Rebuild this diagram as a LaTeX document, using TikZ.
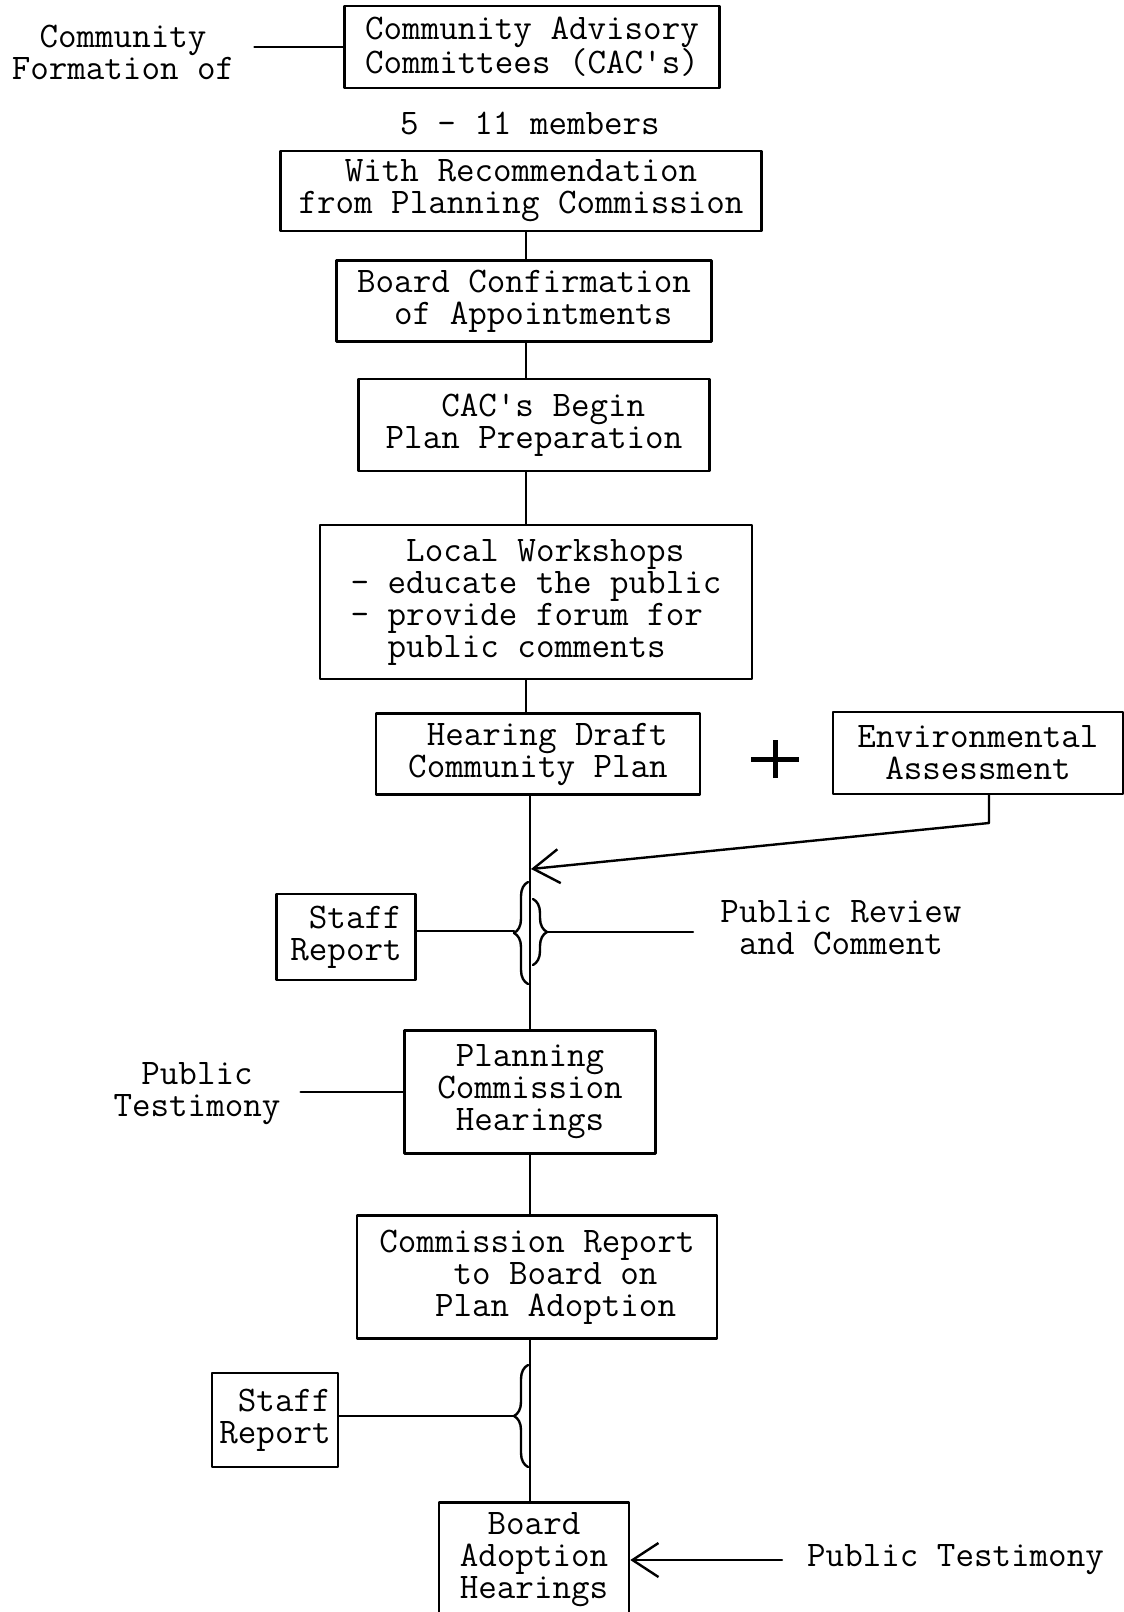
\documentclass[tikz,border=0pt]{standalone}
\usepackage{tikz}
\usetikzlibrary{arrows.meta,decorations.pathreplacing}

\begin{document}
\begin{tikzpicture}[line cap=round,line join=round,x=1pt,y=-1pt,
  every node/.style={font=\fontsize{36}{32}\selectfont\ttfamily},
  box/.style={draw,line width=2.6pt,inner sep=0pt,align=center},
  lbl/.style={align=center,inner sep=0pt},
  link/.style={line width=2.4pt},
  brc/.style={line width=2.4pt,decorate,decoration={brace,amplitude=14pt}},
  >={Straight Barb[length=26pt,width=34pt]}]
\useasboundingbox (0,0) rectangle (1124,1612);
\clip (0,0) rectangle (1124,1612);
% boxes down the middle
\node[box,minimum width=375pt,minimum height=82pt] (cac) at (532,47) {Community Advisory\\Committees (CAC's)};
\node[box,minimum width=481pt,minimum height=80pt] (rec) at (521,191) {With Recommendation\\from Planning Commission};
\node[box,minimum width=375pt,minimum height=81pt,align=left] (conf) at (524,301) {Board Confirmation\\\hphantom{xx}of Appointments};
\node[box,minimum width=351pt,minimum height=92pt,align=left] (begin) at (534,425) {\hphantom{xxx}CAC's Begin\\Plan Preparation};
\node[box,minimum width=432pt,minimum height=154pt,align=left] (work) at (536,602) {\hphantom{xxx}Local Workshops\\- educate the public\\- provide forum for\\\hphantom{xx}public comments};
\node[box,minimum width=324pt,minimum height=81pt,align=left] (draft) at (538,754) {\hphantom{x}Hearing Draft\\Community Plan};
\node[box,minimum width=290pt,minimum height=82pt] (env) at (978,753) {Environmental\\Assessment};
\node[box,minimum width=139pt,minimum height=86pt,align=right] (staffA) at (346,937) {Staff\\Report};
\node[box,minimum width=251pt,minimum height=123pt] (pch) at (530,1092) {Planning\\Commission\\Hearings};
\node[box,minimum width=360pt,minimum height=123pt,align=left] (crep) at (537,1277) {Commission Report\\\hphantom{xxxx}to Board on\\\hphantom{xxx}Plan Adoption};
\node[box,minimum width=126pt,minimum height=94pt,align=right] (staffB) at (275,1420) {Staff\\Report};
\node[box,minimum width=190pt,minimum height=114pt,anchor=north] (bah) at (534,1501) {Board\\Adoption\\Hearings};
% loose labels
\node[lbl,inner xsep=20pt] (formof) at (123,52) {Community\\Formation of};
\node[lbl] (members) at (530,123) {5 - 11 members};
\node[lbl] (review) at (841,928) {Public Review\\and Comment};
\node[lbl,inner xsep=20pt] (test1) at (197,1094) {Public\\Testimony};
\node[lbl,anchor=west] (test2) at (807,1560) {Public Testimony};
\coordinate (plus) at (775,759);
\coordinate (spA) at (526,0);
\coordinate (spB) at (530,0);
\coordinate (envBend) at (989,823);
\coordinate (envIn) at (531,869);
\coordinate (braceA) at (514,931);
\coordinate (braceR) at (547,932);
\coordinate (braceB) at (514,1416);
\coordinate (revEnd) at (693,932);
\coordinate (testEnd) at (782,1560);
% the plus sign
\draw[line width=5pt,line cap=butt] ([xshift=-24pt]plus) -- ([xshift=24pt]plus)
  ([yshift=-19pt]plus) -- ([yshift=19pt]plus);
% connectors
\draw[link] (formof.east |- cac.west) -- (cac.west);
\draw[link] (rec.south -| spA) -- (conf.north -| spA);
\draw[link] (conf.south -| spA) -- (begin.north -| spA);
\draw[link] (begin.south -| spA) -- (work.north -| spA);
\draw[link] (work.south -| spA) -- (draft.north -| spA);
\draw[link] (draft.south -| spB) -- (pch.north -| spB);
\draw[link] (pch.south -| spB) -- (crep.north -| spB);
\draw[link] (crep.south -| spB) -- (bah.north -| spB);
\draw[link,->] (env.south -| envBend) -- (envBend) -- (envIn);
\draw[brc] (528,984) -- (528,882);
\draw[brc] (533,899) -- (533,965);
\draw[brc] (528,1467) -- (528,1365);
\draw[link] (staffA.east |- braceA) -- (braceA);
\draw[link] (braceR) -- (revEnd);
\draw[link] (staffB.east |- braceB) -- (braceB);
\draw[link] (test1.east |- pch.west) -- (pch.west);
\draw[link,->] (testEnd) -- (bah.east |- testEnd);
\end{tikzpicture}
\end{document}
